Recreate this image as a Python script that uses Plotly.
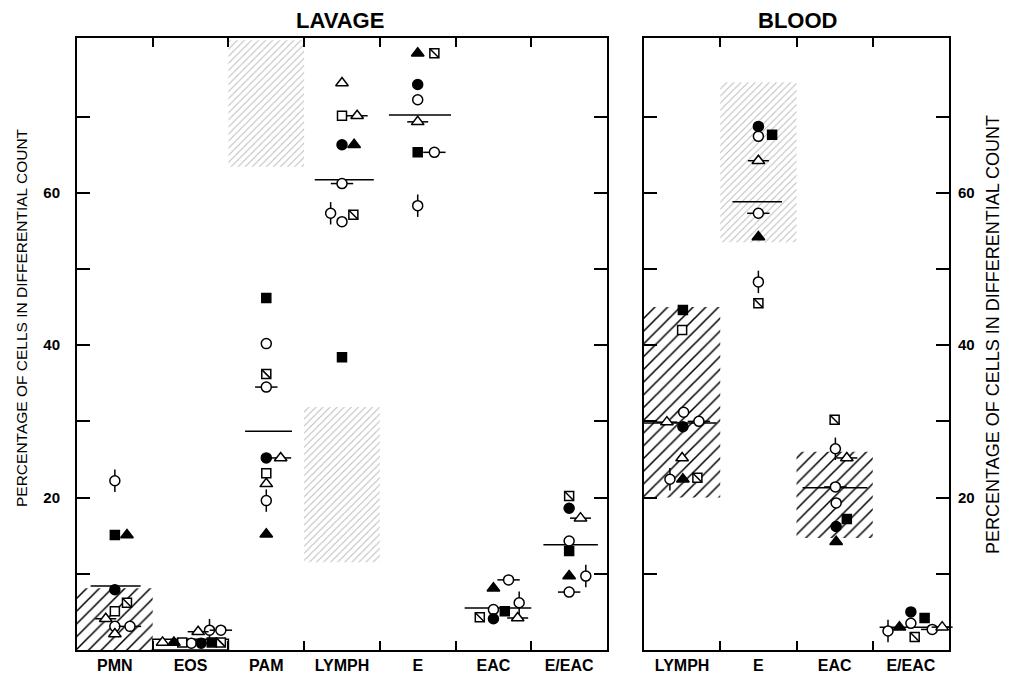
import plotly.graph_objects as go

# ---------------- data ----------------
subjects = ["oc", "fc", "os", "fs", "hs", "ot", "ft", "phi", "theta", "tb"]

lavage_categories = ["PMN", "EOS", "PAM", "LYMPH", "E", "EAC", "E/EAC"]
lavage_oc = [3.1, 0.9, 40.2, 56.2, 72.2, 5.3, 14.3]
lavage_fc = [7.9, 0.9, 25.2, 66.3, 74.2, 4.1, 18.6]
lavage_os = [5.1, 1.0, 23.2, 70.1, None, None, None]
lavage_fs = [15.1, 1.0, 46.2, 38.4, 65.3, 5.1, 13.0]
lavage_hs = [6.2, 1.0, 36.2, 57.1, 78.3, 4.3, 20.2]
lavage_ot = [2.1, 1.0, 21.8, 74.4, None, None, None]
lavage_ft = [15.1, 1.0, 15.2, 66.3, 78.3, 8.1, 9.7]
lavage_phi = [22.2, 2.6, 19.6, 57.3, 58.3, 6.2, 9.7]
lavage_theta = [3.1, 2.6, 34.5, 61.2, 65.3, 9.2, 7.6]
lavage_tb = [4.1, 2.4, 25.2, 70.1, 69.3, 4.2, 17.3]
lavage_means = [8.4, None, 28.7, 61.7, 70.2, 5.5, 13.8]
lavage_normal_low = [0, 0, 63.4, 11.5, None, None, None]
lavage_normal_high = [8.1, 1.4, 80, 31.9, None, None, None]

blood_categories = ["LYMPH", "E", "EAC", "E/EAC"]
blood_oc = [31.2, 67.4, 19.3, 3.5]
blood_fc = [29.3, 68.7, 16.2, 5.0]
blood_os = [42.0, None, None, None]
blood_fs = [44.6, 67.6, 17.2, 4.2]
blood_hs = [22.6, 45.5, 30.2, 1.7]
blood_ot = [25.2, None, None, None]
blood_ft = [22.4, 54.2, 14.2, 3.0]
blood_phi = [22.4, 48.3, 26.4, 2.5]
blood_theta = [30.0, 57.3, 21.4, 2.7]
blood_tb = [29.9, 64.2, 25.2, 3.0]
blood_means = [29.8, 58.8, 21.3, 3.0]
blood_normal_low = [20, 53.5, 14.7, None]
blood_normal_high = [45, 74.5, 26.0, None]

y_tick_values = [10, 20, 30, 40, 50, 60, 70]
y_tick_labels = ["", "20", "", "40", "", "60", ""]

# ---------------- layout / style (positions within category) ----------------
lavage_dodge = {
    "oc": [0, 0.01, 0, 0, 0, 0, 0],
    "fc": [0, 0.14, 0, 0, 0, 0, 0],
    "os": [0, -0.11, 0, 0, 0, 0, 0],
    "fs": [0, 0.28, 0, 0, 0, 0.15, 0],
    "hs": [0.16, 0.40, 0, 0.15, 0.22, -0.18, 0],
    "ot": [0, -0.37, 0, 0, 0, 0, 0],
    "ft": [0.16, -0.22, 0, 0.16, 0, 0, 0],
    "phi": [0, 0.25, 0, -0.15, 0, 0.34, 0.22],
    "theta": [0.2, 0.40, 0, 0, 0.22, 0.2, 0],
    "tb": [-0.12, 0.1, 0.19, 0.2, 0, 0.32, 0.15],
}
blood_dodge = {
    "oc": [0.02, 0, 0.02, 0],
    "fc": [0.01, 0, 0.02, 0],
    "os": [0, 0, 0, 0],
    "fs": [0.01, 0.18, 0.16, 0.18],
    "hs": [0.2, 0, 0, 0.05],
    "ot": [0, 0, 0, 0],
    "ft": [0.01, 0, 0.02, -0.15],
    "phi": [-0.16, 0, 0.01, -0.3],
    "theta": [0.22, 0, 0.01, 0.28],
    "tb": [-0.2, 0, 0.16, 0.41],
}
lavage_mean_extent = [(-0.32, 0.34), None, (-0.28, 0.34), (-0.36, 0.42), (-0.38, 0.44), (-0.38, 0.5), (-0.34, 0.38)]
blood_mean_extent = [(-0.5, 0.45), (-0.34, 0.31), (-0.42, 0.43), (-0.41, 0.5)]
lavage_normal_style = ["dense", "box", "faint", "faint", None, None, None]
blood_normal_style = ["dense", "faint", "dense", None]

STYLE = {
    "oc": dict(symbol="circle", fill="white", size=10, overlay=None),
    "fc": dict(symbol="circle", fill="black", size=10, overlay=None),
    "os": dict(symbol="square", fill="white", size=9, overlay=None),
    "fs": dict(symbol="square", fill="black", size=9, overlay=None),
    "hs": dict(symbol="square", fill="white", size=9, overlay=("line-nw", 9)),
    "ot": dict(symbol="triangle-up", fill="white", size=11, overlay=None),
    "ft": dict(symbol="triangle-up", fill="black", size=11, overlay=None),
    "phi": dict(symbol="circle", fill="white", size=10, overlay=("line-ns", 16)),
    "theta": dict(symbol="circle", fill="white", size=10, overlay=("line-ew", 16)),
    "tb": dict(symbol="triangle-up", fill="white", size=11, overlay=("line-ew", 15)),
}

W, H = 1009, 675
FONT = "Liberation Sans, Arial, sans-serif"

lavage_values = {
    "oc": lavage_oc, "fc": lavage_fc, "os": lavage_os, "fs": lavage_fs, "hs": lavage_hs,
    "ot": lavage_ot, "ft": lavage_ft, "phi": lavage_phi, "theta": lavage_theta, "tb": lavage_tb,
}
blood_values = {
    "oc": blood_oc, "fc": blood_fc, "os": blood_os, "fs": blood_fs, "hs": blood_hs,
    "ot": blood_ot, "ft": blood_ft, "phi": blood_phi, "theta": blood_theta, "tb": blood_tb,
}

fig = go.Figure()

PATTERNS = {
    "dense": dict(shape="/", fgcolor="black", fgopacity=1, fillmode="overlay", size=9, solidity=0.17),
    "faint": dict(shape="/", fgcolor="#b8b8b8", fgopacity=1, fillmode="overlay", size=5, solidity=0.18),
}


def add_panel(cats, values, dodge, means, mean_ext, lo, hi, nstyle, xa, ya):
    # normal ranges
    for i, c in enumerate(cats):
        if lo[i] is None:
            continue
        st = nstyle[i]
        if st == "box":
            marker = dict(color="rgba(0,0,0,0)", line=dict(color="black", width=1.5))
        else:
            marker = dict(color="white", line=dict(width=0), pattern=PATTERNS[st])
        fig.add_trace(go.Bar(x=[i], y=[hi[i] - lo[i]], base=[lo[i]], width=[1.0],
                             marker=marker, xaxis=xa, yaxis=ya, showlegend=False,
                             hoverinfo="skip"))
    # mean lines
    mx, my = [], []
    for i, m in enumerate(means):
        if m is None:
            continue
        a, b = mean_ext[i]
        mx += [i + a, i + b, None]
        my += [m, m, None]
    fig.add_trace(go.Scatter(x=mx, y=my, mode="lines", line=dict(color="black", width=1.5),
                             xaxis=xa, yaxis=ya, showlegend=False, hoverinfo="skip",
                             cliponaxis=False))
    # markers
    for s in subjects:
        xs, ys = [], []
        for i, v in enumerate(values[s]):
            if v is None:
                continue
            xs.append(i + dodge[s][i])
            ys.append(v)
        st = STYLE[s]
        if st["overlay"]:
            sym, sz = st["overlay"]
            fig.add_trace(go.Scatter(x=xs, y=ys, mode="markers",
                                     marker=dict(symbol=sym, size=sz,
                                                 line=dict(color="black", width=1.5)),
                                     xaxis=xa, yaxis=ya, showlegend=False, cliponaxis=False))
        fig.add_trace(go.Scatter(x=xs, y=ys, mode="markers",
                                 marker=dict(symbol=st["symbol"], size=st["size"], color=st["fill"],
                                             line=dict(color="black", width=1.5)),
                                 xaxis=xa, yaxis=ya, showlegend=False, cliponaxis=False))
        if st["overlay"] and s == "hs":
            sym, sz = st["overlay"]
            fig.add_trace(go.Scatter(x=xs, y=ys, mode="markers",
                                     marker=dict(symbol=sym, size=sz - 1,
                                                 line=dict(color="black", width=1.5)),
                                     xaxis=xa, yaxis=ya, showlegend=False, cliponaxis=False))


add_panel(lavage_categories, lavage_values, lavage_dodge, lavage_means, lavage_mean_extent,
          lavage_normal_low, lavage_normal_high, lavage_normal_style, "x", "y")
add_panel(blood_categories, blood_values, blood_dodge, blood_means, blood_mean_extent,
          blood_normal_low, blood_normal_high, blood_normal_style, "x2", "y2")

ydom = [1 - 650 / H, 1 - 38 / H]


def xaxis_cfg(cats, dom):
    n = len(cats)
    return dict(domain=dom, range=[-0.5, n - 0.5], tickvals=list(range(n)), ticktext=cats,
                ticks="", showgrid=False, zeroline=False, showline=True, linecolor="black",
                linewidth=2, mirror="ticks", automargin=False,
                tickfont=dict(family=FONT, size=16, color="black", weight="bold"),
                minor=dict(tickvals=[k + 0.5 for k in range(n - 1)], ticks="inside", ticklen=9,
                           tickcolor="black", tickwidth=2, showgrid=False))


def yaxis_cfg(side, standoff):
    return dict(domain=ydom, range=[0, 80.3], tickvals=y_tick_values, ticktext=y_tick_labels,
                ticks="inside", ticklen=13, tickwidth=2, tickcolor="black", side=side,
                showgrid=False, zeroline=False, showline=True, linecolor="black", linewidth=2,
                mirror="ticks", automargin=False, ticklabelstandoff=standoff,
                tickfont=dict(family=FONT, size=15, color="black", weight="bold"))


fig.update_layout(
    width=W, height=H, margin=dict(l=0, r=0, t=0, b=0),
    paper_bgcolor="white", plot_bgcolor="white", barmode="overlay", showlegend=False,
    font=dict(family=FONT, color="black"),
    xaxis=xaxis_cfg(lavage_categories, [77 / W, 607 / W]),
    yaxis=yaxis_cfg("left", 12),
    xaxis2=dict(anchor="y2", **xaxis_cfg(blood_categories, [644 / W, 949 / W])),
    yaxis2=dict(anchor="x2", **yaxis_cfg("right", 4)),
)
fig.layout.xaxis.anchor = "y"
fig.layout.yaxis.anchor = "x"

ann = [
    dict(text="<b>LAVAGE</b>", x=340 / W, y=1 - 21 / H, size=22, angle=0),
    dict(text="<b>BLOOD</b>", x=797 / W, y=1 - 21 / H, size=22, angle=0),
    dict(text="PERCENTAGE OF CELLS IN DIFFERENTIAL COUNT", x=22 / W, y=1 - 318 / H, size=15.5, angle=-90),
    dict(text="PERCENTAGE OF CELLS IN DIFFERENTIAL COUNT", x=993 / W, y=1 - 335 / H, size=18, angle=-90),
]
for a in ann:
    fig.add_annotation(text=a["text"], x=a["x"], y=a["y"], xref="paper", yref="paper",
                       showarrow=False, textangle=a["angle"], xanchor="center", yanchor="middle",
                       font=dict(family=FONT, size=a["size"], color="black"))

fig.write_html("out.html", config={"displayModeBar": False},
               post_script="document.body.style.margin='0';document.body.style.overflow='hidden';")
